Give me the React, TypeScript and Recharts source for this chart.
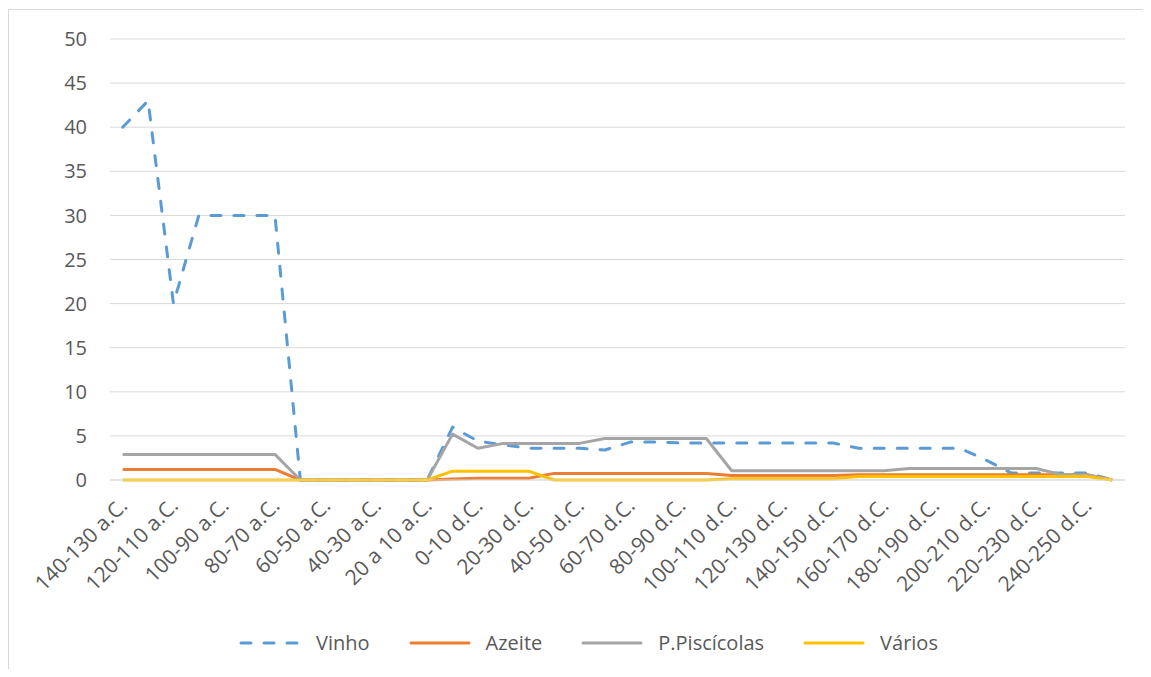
import React from 'react';
import { LineChart, Line, XAxis, YAxis, CartesianGrid, Legend } from 'recharts';

const categories = [
  '140-130 a.C.', '130-120 a.C.', '120-110 a.C.', '110-100 a.C.', '100-90 a.C.',
  '90-80 a.C.', '80-70 a.C.', '70-60 a.C.', '60-50 a.C.', '50-40 a.C.',
  '40-30 a.C.', '30-20 a.C.', '20 a 10 a.C.', '10-0 a.C.', '0-10 d.C.',
  '10-20 d.C.', '20-30 d.C.', '30-40 d.C.', '40-50 d.C.', '50-60 d.C.',
  '60-70 d.C.', '70-80 d.C.', '80-90 d.C.', '90-100 d.C.', '100-110 d.C.',
  '110-120 d.C.', '120-130 d.C.', '130-140 d.C.', '140-150 d.C.', '150-160 d.C.',
  '160-170 d.C.', '170-180 d.C.', '180-190 d.C.', '190-200 d.C.', '200-210 d.C.',
  '210-220 d.C.', '220-230 d.C.', '230-240 d.C.', '240-250 d.C.', '250-260 d.C.',
];

const vinho = [
  40, 43, 20, 30, 30, 30, 30, 0, 0, 0,
  0, 0, 0, 6, 4.4, 4.0, 3.6, 3.6, 3.6, 3.4,
  4.3, 4.3, 4.2, 4.2, 4.2, 4.2, 4.2, 4.2, 4.2, 3.6,
  3.6, 3.6, 3.6, 3.6, 2.3, 0.8, 0.8, 0.8, 0.8, 0,
];

const azeite = [
  1.2, 1.2, 1.2, 1.2, 1.2, 1.2, 1.2, 0, 0, 0,
  0, 0, 0, 0.1, 0.2, 0.2, 0.2, 0.75, 0.75, 0.75,
  0.75, 0.75, 0.75, 0.75, 0.5, 0.5, 0.5, 0.5, 0.5, 0.6,
  0.6, 0.6, 0.6, 0.6, 0.6, 0.6, 0.6, 0.6, 0.6, 0,
];

const piscicolas = [
  2.9, 2.9, 2.9, 2.9, 2.9, 2.9, 2.9, 0, 0, 0,
  0, 0, 0, 5.2, 3.6, 4.15, 4.15, 4.15, 4.15, 4.7,
  4.7, 4.7, 4.7, 4.7, 1.05, 1.05, 1.05, 1.05, 1.05, 1.05,
  1.05, 1.3, 1.3, 1.3, 1.3, 1.3, 1.3, 0.6, 0.6, 0,
];

const varios = [
  0, 0, 0, 0, 0, 0, 0, 0, 0, 0,
  0, 0, 0, 1, 1, 1, 1, 0, 0, 0,
  0, 0, 0, 0, 0.15, 0.15, 0.15, 0.15, 0.15, 0.4,
  0.4, 0.4, 0.4, 0.4, 0.4, 0.4, 0.4, 0.4, 0.4, 0,
];

const seriesOrder = ['Vinho', 'Azeite', 'P.Piscícolas', 'Vários'];
const yTicks = [0, 5, 10, 15, 20, 25, 30, 35, 40, 45, 50];

const data = categories.map((c, i) => ({
  periodo: c,
  Vinho: vinho[i],
  Azeite: azeite[i],
  'P.Piscícolas': piscicolas[i],
  Vários: varios[i],
}));

const FONT = '"Open Sans", sans-serif';
const TEXT = '#595959';

const XTick = (props: any) => {
  const { x, y, payload } = props;
  const ax = x + 6;
  const ay = y + 19;
  return (
    <text
      x={ax}
      y={ay}
      textAnchor="end"
      fill={TEXT}
      fontSize={21}
      fontFamily={FONT}
      transform={`rotate(-45, ${ax}, ${ay})`}
    >
      {payload.value}
    </text>
  );
};

const renderLegend = (props: any) => {
  const items = [...(props.payload || [])].sort(
    (a: any, b: any) => seriesOrder.indexOf(a.value) - seriesOrder.indexOf(b.value)
  );
  return (
    <div style={{ display: 'flex', justifyContent: 'center', gap: 38, fontFamily: FONT, fontSize: 20, color: TEXT }}>
      {items.map((entry: any) => (
        <div key={entry.value} style={{ display: 'flex', alignItems: 'center' }}>
          <svg width={64} height={10}>
            <line
              x1={3}
              y1={5}
              x2={61}
              y2={5}
              stroke={entry.color}
              strokeWidth={3}
              strokeLinecap="round"
              strokeDasharray={entry.payload && entry.payload.strokeDasharray}
            />
          </svg>
          <span style={{ marginLeft: 14 }}>{entry.value}</span>
        </div>
      ))}
    </div>
  );
};

export default function App() {
  return (
    <div style={{ position: 'relative', width: 1135, height: 661, overflow: 'hidden', background: '#fff' }}>
      <div style={{ position: 'absolute', left: 0, top: 1, width: 1200, height: 720, border: '1px solid #D9D9D9' }} />
      <LineChart
        width={1135}
        height={661}
        data={data}
        margin={{ top: 31, right: 18, left: 42, bottom: 0 }}
      >
        <CartesianGrid vertical={false} stroke="#D9D9D9" />
        <XAxis
          dataKey="periodo"
          interval={1}
          height={189}
          padding={{ left: 12.7, right: 12.7 }}
          axisLine={{ stroke: '#D9D9D9' }}
          tickLine={false}
          tick={<XTick />}
        />
        <YAxis
          domain={[0, 50]}
          ticks={yTicks}
          width={60}
          axisLine={false}
          tickLine={false}
          tickMargin={17}
          tick={{ fill: TEXT, fontSize: 20, fontFamily: FONT }}
        />
        <Legend
          verticalAlign="middle"
          align="center"
          content={renderLegend}
          wrapperStyle={{ top: 621, left: 0, width: 1160 }}
        />
        <Line dataKey="Vinho" stroke="#5B9BD5" strokeWidth={3} strokeDasharray="10 13" strokeLinecap="round" strokeLinejoin="round" dot={false} isAnimationActive={false} />
        <Line dataKey="Azeite" stroke="#ED7D31" strokeWidth={3} strokeLinejoin="round" dot={false} isAnimationActive={false} />
        <Line dataKey="P.Piscícolas" stroke="#A5A5A5" strokeWidth={3} strokeLinejoin="round" dot={false} isAnimationActive={false} />
        <Line dataKey="Vários" stroke="#FFC000" strokeWidth={3} strokeLinejoin="round" dot={false} isAnimationActive={false} />
      </LineChart>
    </div>
  );
}
